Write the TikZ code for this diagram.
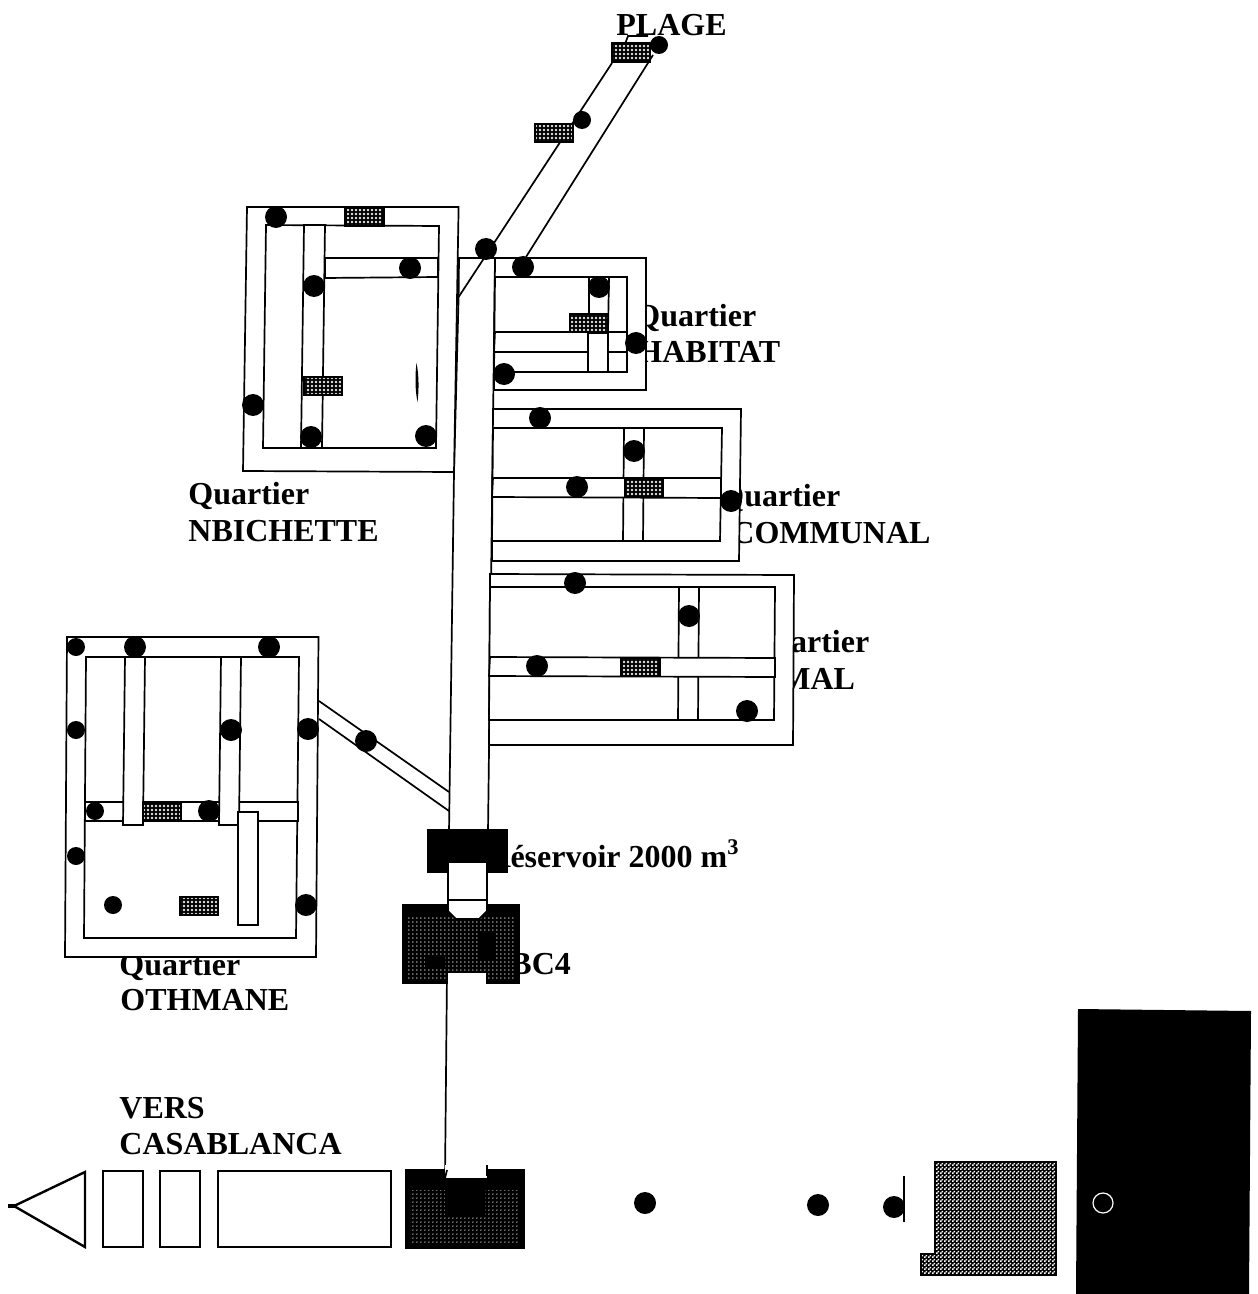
\documentclass[tikz,border=0pt]{standalone}
\usepackage{fontspec}
\setmainfont{Liberation Serif}
\usepackage{tikz}
\usetikzlibrary{patterns}
\pgfdeclarelayer{textlayer}
\pgfdeclarelayer{edgelayer}
\pgfdeclarelayer{nodelayer}
\pgfsetlayers{textlayer,edgelayer,nodelayer,main}
\pgfdeclarepatternformonly{finedots}{\pgfqpoint{-1pt}{-1pt}}{\pgfqpoint{1pt}{1pt}}{\pgfqpoint{2pt}{2pt}}{\pgfpathcircle{\pgfqpoint{0pt}{0pt}}{0.65pt}\pgfusepath{fill}}
\pgfdeclarepatternformonly{sparsedots}{\pgfqpoint{-1.1pt}{-1.1pt}}{\pgfqpoint{1.1pt}{1.1pt}}{\pgfqpoint{2.2pt}{2.2pt}}{\pgfpathcircle{\pgfqpoint{0pt}{0pt}}{0.42pt}\pgfusepath{fill}}
\pgfdeclarepatternformonly{checker}{\pgfqpoint{0pt}{0pt}}{\pgfqpoint{2pt}{2pt}}{\pgfqpoint{2pt}{2pt}}{\pgfpathrectangle{\pgfqpoint{0pt}{0pt}}{\pgfqpoint{1pt}{1pt}}\pgfpathrectangle{\pgfqpoint{1pt}{1pt}}{\pgfqpoint{1pt}{1pt}}\pgfusepath{fill}}
\tikzstyle{road}=[draw=black, fill=white, line width=0.85pt]
\tikzstyle{edge}=[draw=black, line width=0.85pt]
\tikzstyle{vertex}=[circle, fill=black, inner sep=0pt, minimum size=11pt]
\tikzstyle{smallvertex}=[circle, fill=black, inner sep=0pt, minimum size=9pt]
\tikzstyle{tank}=[draw=black, line width=1.3pt, inner sep=0pt, minimum width=19pt, minimum height=9pt, preaction={fill=black}, pattern=finedots, pattern color=white!90!black]
\tikzstyle{bigdots}=[pattern=sparsedots, pattern color=white!85!black]
\tikzstyle{place}=[anchor=base west, inner sep=0pt, font=\bfseries\fontsize{16}{18}\selectfont]

\begin{document}
\begin{tikzpicture}[x=0.5pt, y=-0.5pt]
	\useasboundingbox (0,0) rectangle (1257,1294);
	\begin{pgfonlayer}{textlayer}
		\node [style=place] (plage) at (616,36) {PLAGE};
		\node [style=place] (nb1) at (188,504) {Quartier};
		\node [style=place] (nb2) at (188,541) {NBICHETTE};
		\node [style=place] (hab1) at (635,327) {Quartier};
		\node [style=place] (hab2) at (637,362) {HABITAT};
		\node [style=place] (com1) at (719,506) {Quartier};
		\node [style=place] (com2) at (731,543) {COMMUNAL};
		\node [style=place] (mal1) at (748,652) {Quartier};
		\node [style=place] (mal2) at (780,689) {MAL};
		\node [style=place] (oth1) at (119,975) {Quartier};
		\node [style=place] (oth2) at (120,1010) {OTHMANE};
		\node [style=place] (res) at (487,867) {Réservoir 2000 m\textsuperscript{3}};
		\node [style=place] (bc) at (510,974) {BC4};
		\node [style=place] (vers1) at (119,1118) {VERS};
		\node [style=place] (vers2) at (119,1154) {CASABLANCA};
	\end{pgfonlayer}
	\begin{pgfonlayer}{edgelayer}
		% main road
		\draw [style=road] (459,258) -- (495,258) -- (488,832) -- (449,832) -- (454,472) -- (458.6,297) -- cycle;
		% Nbichette
		\draw [style=road] (247,207) -- (458.6,207) -- (454,472) -- (243,471) -- cycle;
		\draw [style=road] (266,225) -- (439,226) -- (436,448) -- (263,448) -- cycle;
		\draw [style=road] (304,225) -- (325,225) -- (322,448) -- (301,448) -- cycle;
		\draw [style=road] (325,258) -- (438,258) -- (438,277) -- (325,278) -- cycle;
		\fill [black] (416.5,363) .. controls (419,375) and (419,390) .. (417.5,402) .. controls (415,390) and (415,375) .. (416.5,363);
		% Habitat
		\draw [style=road] (495,258) -- (646,258) -- (646,390) -- (494,390) -- cycle;
		\draw [style=road] (495,277) -- (627,277) -- (627,372) -- (494,372) -- cycle;
		\draw [style=road] (495,332) -- (627,332) -- (627,352) -- (494,352) -- cycle;
		\draw [style=road] (589,277) -- (609,277) -- (608,332) -- (589,332) -- cycle;
		\draw [style=road] (588,333) -- (608,333) -- (608,372) -- (588,372) -- cycle;
		% Communal
		\draw [style=road] (493,409) -- (741,409) -- (739,561) -- (492,561) -- cycle;
		\draw [style=road] (493,428) -- (722,428) -- (720,541) -- (492,541) -- cycle;
		\draw [style=road] (624,428) -- (644,428) -- (643,541) -- (623,541) -- cycle;
		\draw [style=road] (493,478) -- (721,478) -- (721,498) -- (492,497) -- cycle;
		% Jamal
		\draw [style=road] (490,574) -- (794,575) -- (793,745) -- (489,745) -- cycle;
		\draw [style=road] (490,587) -- (775,587) -- (774,720) -- (489,720) -- cycle;
		\draw [style=road] (679,587) -- (699,587) -- (698,720) -- (678,720) -- cycle;
		\draw [style=road] (490,657) -- (775,658) -- (775,677) -- (489,676) -- cycle;
		% Othmane
		\draw [style=road] (67,637) -- (318.5,637) -- (316,957) -- (65,957) -- cycle;
		\draw [style=road] (86,657) -- (299,657) -- (296,938) -- (84,938) -- cycle;
		\draw [style=road] (85,802) -- (298,802) -- (298,821) -- (85,821) -- cycle;
		\draw [style=road] (125,657) -- (145,657) -- (143,825) -- (123,825) -- cycle;
		\draw [style=road] (221,657) -- (241,657) -- (239,825) -- (219,825) -- cycle;
		\draw [style=road] (238,812) -- (258,812) -- (258,925) -- (238,925) -- cycle;
		\coordinate (o1) at (319,701);
		\coordinate (o2) at (449,792);
		\coordinate (o3) at (319,719);
		\coordinate (o4) at (449,811);
		\draw [style=edge] (o1) -- (o2);
		\draw [style=edge] (o3) -- (o4);
		% road to the beach
		\coordinate (p1) at (612,63);
		\coordinate (p2) at (458.6,297);
		\coordinate (p3) at (653,55);
		\coordinate (p4) at (526,257);
		\draw [style=edge] (p1) -- (p2);
		\draw [style=edge] (p3) -- (p4);
		\draw [style=edge] (625,44) -- (628,36) -- (648,36);
		% reservoir and station
		\fill [black] (427,829) rectangle (508,873);
		\fill [black] (402,904) rectangle (520,984);
		\fill [style=bigdots] (407,915) rectangle (515,978);
		\fill [black] (478,933) rectangle (495,960);
		\fill [black] (425,955) rectangle (445,967);
		\fill [white] (486,973) rectangle (447,986);
		\draw [style=road] (448,862) -- (487,862) -- (487,900) -- (448,900) -- cycle;
		\draw [style=road] (448,900) -- (487,900) -- (487,911) -- (479,919) -- (456,919) -- (448,911) -- cycle;
		\draw [style=edge] (447,973) -- (445,1178);
		% bottom row
		\fill [black] (405,1169) rectangle (525,1249);
		\fill [style=bigdots] (411,1190) rectangle (519,1244);
		\fill [black] (445,1178) rectangle (485,1215);
		\fill [white] (445,1165) rectangle (487,1178);
		\draw [style=edge] (487,1165) -- (487,1176);
		\draw [style=edge] (447,1170) -- (445,1178);
		\draw [draw=black, line width=1.2pt] (14,1206) -- (85,1172) -- (85,1247) -- cycle;
		\draw [draw=black, line width=2pt] (8,1206) -- (16,1206);
		\draw [style=edge] (103,1171) rectangle (143,1247);
		\draw [style=edge] (160,1171) rectangle (200,1247);
		\draw [style=edge] (218,1171) rectangle (391,1247);
		\draw [style=edge] (904,1176) -- (904,1222);
		\path [draw=black, line width=0.6pt, preaction={fill=black}, pattern=checker, pattern color=white] (935,1162) -- (1056,1162) -- (1056,1275) -- (921,1275) -- (921,1254) -- (935,1254) -- cycle;
		\fill [black] (1078,1009) -- (1251,1011) -- (1249,1294) -- (1076,1294) -- cycle;
	\end{pgfonlayer}
	\begin{pgfonlayer}{nodelayer}
		\node [style=vertex] (main) at (486,249) {};
		\node [style=smallvertex] (beach1) at (659,45) {};
		\node [style=smallvertex] (beach2) at (582,120) {};
		\node [style=tank] (tbeach1) at (631,52.5) {};
		\node [style=tank] (tbeach2) at (554,133) {};
		% Nbichette
		\node [style=vertex] (nb3) at (276,217) {};
		\node [style=vertex] (nb4) at (314,286) {};
		\node [style=vertex] (nb5) at (410,268) {};
		\node [style=vertex] (nb6) at (253,405) {};
		\node [style=vertex] (nb7) at (311,437) {};
		\node [style=vertex] (nb8) at (426,436) {};
		\node [style=tank] (tnb1) at (364.5,217) {};
		\node [style=tank] (tnb2) at (323,386) {};
		% Habitat
		\node [style=vertex] (hab3) at (523,267) {};
		\node [style=vertex] (hab4) at (599,287) {};
		\node [style=vertex] (hab5) at (636,343) {};
		\node [style=vertex] (hab6) at (504,374) {};
		\node [style=tank] (thab) at (589,323) {};
		% Communal
		\node [style=vertex] (com3) at (540,418) {};
		\node [style=vertex] (com4) at (634,451) {};
		\node [style=vertex] (com5) at (577,487) {};
		\node [style=vertex] (com6) at (731,501) {};
		\node [style=tank] (tcom) at (644,488) {};
		% Jamal
		\node [style=vertex] (mal3) at (575,583) {};
		\node [style=vertex] (mal4) at (689,616) {};
		\node [style=vertex] (mal5) at (537,666) {};
		\node [style=vertex] (mal6) at (747,711) {};
		\node [style=tank] (tmal) at (640.5,667) {};
		% Othmane
		\node [style=smallvertex] (oth3) at (76,647) {};
		\node [style=vertex] (oth4) at (135,647) {};
		\node [style=vertex] (oth5) at (269,647) {};
		\node [style=smallvertex] (oth6) at (76,730) {};
		\node [style=vertex] (oth7) at (231,730) {};
		\node [style=vertex] (oth8) at (308,729) {};
		\node [style=smallvertex] (oth9) at (95,811) {};
		\node [style=vertex] (oth10) at (209,811) {};
		\node [style=smallvertex] (oth11) at (76,856) {};
		\node [style=vertex] (oth12) at (306,905) {};
		\node [style=smallvertex] (oth13) at (113,905) {};
		\node [style=vertex] (oth14) at (366,741) {};
		\node [style=tank] (toth1) at (162,811.5) {};
		\node [style=tank] (toth2) at (199,906) {};
		% bottom row
		\node [style=vertex] (row1) at (645,1203) {};
		\node [style=vertex] (row2) at (818,1205) {};
		\node [style=vertex] (row3) at (894,1207) {};
		\node [circle, draw=white, line width=0.6pt, inner sep=0pt, minimum size=10pt] (row4) at (1103,1203) {};
	\end{pgfonlayer}
\end{tikzpicture}
\end{document}
